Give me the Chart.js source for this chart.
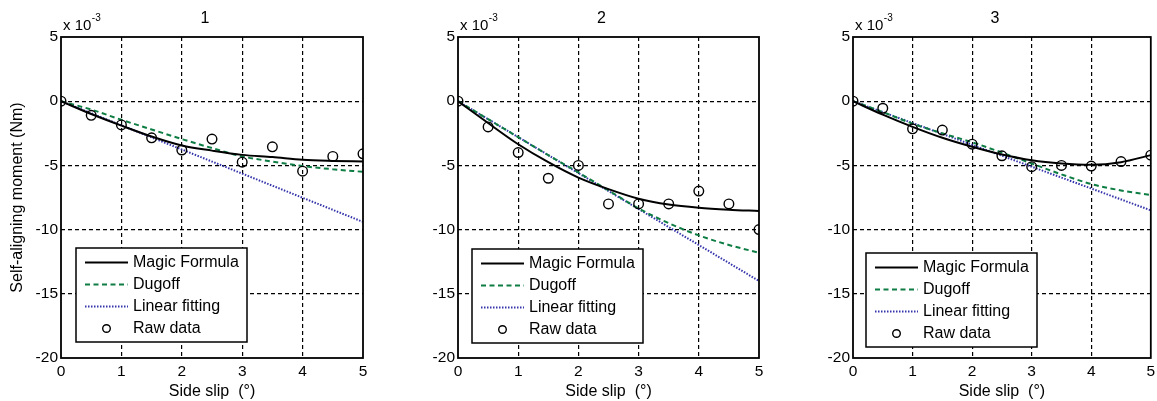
<!DOCTYPE html>
<html>
<head>
<title>Self-aligning moment vs side slip</title>
<script src="https://cdn.jsdelivr.net/npm/chart.js@4/dist/chart.umd.min.js"></script>
<style>
  body { margin: 0; background: #fff; }
  canvas { position: absolute; top: 0; }
</style>
</head>
<body>
<canvas id="c1" width="390" height="401" style="left:0"></canvas>
<canvas id="c2" width="390" height="401" style="left:390px"></canvas>
<canvas id="c3" width="377" height="401" style="left:780px"></canvas>

<script>
// side slip (deg) where the raw data and model curves are sampled
const slip = [0, 0.5, 1, 1.5, 2, 2.5, 3, 3.5, 4, 4.5, 5];
// the linear fit is a straight line, only its ends are needed
const fitSlip = [0, 5];

// moments in units of 1e-3 Nm
const raw1    = [0, -1.1, -1.85, -2.85, -3.8, -2.95, -4.75, -3.55, -5.45, -4.3, -4.1];
const magic1  = [0, -1.0, -1.9, -2.75, -3.45, -3.85, -4.18, -4.35, -4.56, -4.65, -4.7];
const dugoff1 = [0, -0.65, -1.45, -2.2, -2.95, -3.65, -4.3, -4.7, -5.05, -5.3, -5.5];
const linear1 = [0, -9.4];

const raw2    = [0, -2, -4, -6, -5, -8, -8, -8, -7, -8, -10];
const magic2  = [0, -1.7, -3.35, -4.75, -5.95, -6.85, -7.6, -8.05, -8.3, -8.45, -8.55];
const dugoff2 = [0, -1.4, -2.8, -4.2, -5.55, -6.95, -8.35, -9.5, -10.45, -11.2, -11.8];
const linear2 = [0, -14.0];

const raw3    = [0, -0.55, -2.15, -2.25, -3.35, -4.25, -5.1, -5.0, -5.05, -4.7, -4.2];
const magic3  = [0, -1.05, -2.0, -2.85, -3.55, -4.15, -4.6, -4.85, -4.95, -4.75, -4.2];
const dugoff3 = [0, -0.85, -1.75, -2.5, -3.2, -4.0, -4.85, -5.7, -6.45, -6.95, -7.3];
const linear3 = [0, -8.5];

const xTicks = [0, 1, 2, 3, 4, 5];
const yTicks = [5, 0, -5, -10, -15, -20];

const GREEN = '#0e7d44';
const BLUE = '#3434ab';
const FONT = 'Arial, "Liberation Sans", sans-serif';

Chart.defaults.font.family = FONT;
Chart.defaults.color = '#000';

const pts = (xs, ys) => xs.map((x, i) => ({ x: x, y: ys[i] }));

function makeDatasets(magic, dugoff, linear, raw) {
  return [
    { label: 'Magic Formula', data: pts(slip, magic), borderColor: '#000', borderWidth: 2,
      pointRadius: 0, cubicInterpolationMode: 'monotone', order: 1 },
    { label: 'Dugoff', data: pts(slip, dugoff), borderColor: GREEN, borderWidth: 2,
      borderDash: [5, 3.5], pointRadius: 0, cubicInterpolationMode: 'monotone', order: 2 },
    { label: 'Linear fitting', data: pts(fitSlip, linear), borderColor: BLUE, borderWidth: 2,
      borderDash: [1.5, 1.5], pointRadius: 0, order: 3 },
    { label: 'Raw data', data: pts(slip, raw), showLine: false, pointRadius: 4.8,
      pointBorderWidth: 1.4, pointBorderColor: '#000', pointBackgroundColor: 'rgba(0,0,0,0)', order: 0 }
  ];
}

// axes box, panel title, exponent label and the boxed legend
const panelDecor = {
  id: 'panelDecor',
  afterDatasetsDraw(chart, args, opts) {
    const { ctx, chartArea: a } = chart;
    ctx.save();
    ctx.strokeStyle = '#000';
    ctx.lineWidth = 1.8;
    ctx.strokeRect(a.left, a.top, a.right - a.left, a.bottom - a.top);

    ctx.fillStyle = '#000';
    ctx.font = '16px ' + FONT;
    ctx.textAlign = 'center';
    ctx.textBaseline = 'middle';
    ctx.fillText(opts.title, (a.left + a.right) / 2 - 7, 19);

    ctx.textAlign = 'left';
    ctx.textBaseline = 'alphabetic';
    ctx.font = '15px ' + FONT;
    ctx.fillText('x 10', a.left + 2, 30);
    const w = ctx.measureText('x 10').width;
    ctx.font = '10px ' + FONT;
    ctx.fillText('-3', a.left + 2 + w + 0.5, 21);

    // legend
    const lx = a.left + opts.legendX, ly = opts.legendY;
    ctx.fillStyle = '#fff';
    ctx.fillRect(lx, ly, 171, 94);
    ctx.lineWidth = 1.5;
    ctx.strokeStyle = '#000';
    ctx.strokeRect(lx, ly, 171, 94);
    ctx.font = '16px ' + FONT;
    ctx.textBaseline = 'middle';
    chart.data.datasets.forEach((ds, i) => {
      const ry = ly + 14.5 + i * 22;
      if (ds.showLine === false) {
        ctx.setLineDash([]);
        ctx.lineWidth = 1.4;
        ctx.strokeStyle = ds.pointBorderColor;
        ctx.beginPath();
        ctx.arc(lx + 30.5, ry, 3.8, 0, Math.PI * 2);
        ctx.stroke();
      } else {
        ctx.setLineDash(ds.borderDash || []);
        ctx.lineWidth = ds.borderWidth;
        ctx.strokeStyle = ds.borderColor;
        ctx.beginPath();
        ctx.moveTo(lx + 9, ry);
        ctx.lineTo(lx + 52, ry);
        ctx.stroke();
      }
      ctx.setLineDash([]);
      ctx.fillStyle = '#000';
      ctx.fillText(ds.label, lx + 57, ry + 0.5);
    });
    ctx.restore();
  }
};

function makePanel(id, title, data, yWidth, rightPad, legendX, legendY, showYTitle) {
  return new Chart(document.getElementById(id), {
    type: 'line',
    data: { datasets: makeDatasets.apply(null, data) },
    options: {
      responsive: false,
      animation: false,
      events: [],
      layout: { padding: { top: 37, right: rightPad, bottom: 0, left: 0 } },
      plugins: {
        legend: { display: false },
        tooltip: { enabled: false },
        panelDecor: { title: title, legendX: legendX, legendY: legendY }
      },
      scales: {
        x: {
          type: 'linear', min: 0, max: 5,
          afterBuildTicks: s => { s.ticks = xTicks.map(v => ({ value: v })); },
          ticks: { font: { size: 15.5 }, padding: 4, maxRotation: 0 },
          grid: {
            color: c => (c.tick && c.tick.value > 0 && c.tick.value < 5) ? '#000' : 'rgba(0,0,0,0)',
            lineWidth: 1.2, drawTicks: false
          },
          border: { display: false, dash: [4, 3] },
          title: { display: true, text: 'Side slip  (°)', font: { size: 16 }, padding: { top: 0, bottom: 0 } },
          afterFit: s => { s.height = 43; s.paddingLeft = 0; s.paddingRight = 0; }
        },
        y: {
          type: 'linear', min: -20, max: 5,
          afterBuildTicks: s => { s.ticks = yTicks.map(v => ({ value: v })); },
          ticks: { font: { size: 15.5 }, padding: 3 },
          grid: {
            color: c => (c.tick && c.tick.value < 5 && c.tick.value > -20) ? '#000' : 'rgba(0,0,0,0)',
            lineWidth: 1.2, drawTicks: false
          },
          border: { display: false, dash: [4, 3] },
          title: { display: showYTitle, text: 'Self-aligning moment (Nm)', font: { size: 16 }, padding: { top: 8, bottom: 0 } },
          afterFit: s => { s.width = yWidth; s.paddingTop = 0; s.paddingBottom = 0; }
        }
      }
    },
    plugins: [panelDecor]
  });
}

makePanel('c1', '1', [magic1, dugoff1, linear1, raw1], 61, 27, 15, 248, true);
makePanel('c2', '2', [magic2, dugoff2, linear2, raw2], 68, 21, 14, 249, false);
makePanel('c3', '3', [magic3, dugoff3, linear3, raw3], 73, 2, 13, 253, false);
</script>
</body>
</html>
